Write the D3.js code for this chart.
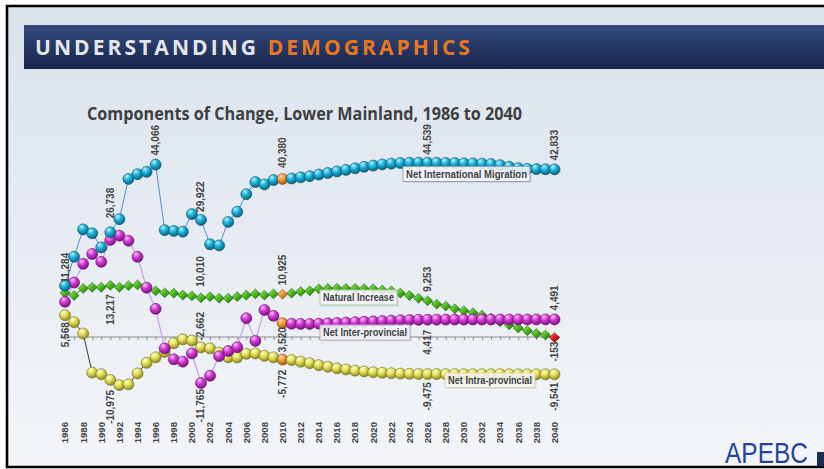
<!DOCTYPE html>
<html><head><meta charset="utf-8">
<script src="https://cdn.jsdelivr.net/npm/d3@7"></script>
<style>html,body{margin:0;padding:0;background:#fff;overflow:hidden}</style>
</head><body>
<svg id="c" width="824" height="469"></svg>
<script>
// ---------------- DATA ----------------
const years = [1986,1987,1988,1989,1990,1991,1992,1993,1994,1995,1996,1997,1998,1999,2000,2001,2002,2003,2004,2005,2006,2007,2008,2009,2010,2011,2012,2013,2014,2015,2016,2017,2018,2019,2020,2021,2022,2023,2024,2025,2026,2027,2028,2029,2030,2031,2032,2033,2034,2035,2036,2037,2038,2039,2040];
const xTickLabels = ["1986","1988","1990","1992","1994","1996","1998","2000","2002","2004","2006","2008","2010","2012","2014","2016","2018","2020","2022","2024","2026","2028","2030","2032","2034","2036","2038","2040"];
const seriesNames = ["Net International Migration","Natural Increase","Net Inter-provincial","Net Intra-provincial"];
const international = [13100,20500,27500,26500,22900,26738,30100,40400,41600,42200,44066,27300,27100,26900,31400,29922,23700,23400,29400,32000,36500,39600,39000,40100,40380,40500,40800,41100,41500,41900,42300,42700,43100,43500,43800,44100,44300,44450,44520,44540,44539,44520,44480,44440,44400,44350,44300,44200,43900,43500,43150,42950,42900,42860,42833];
const natural = [11284,10600,12400,12700,12700,13217,12700,13100,13300,12400,11800,11300,11200,10700,10500,10010,10300,9900,9900,10300,10700,11000,10700,11000,10925,11200,11600,11800,12300,12400,12450,12400,12400,12350,12300,12000,11800,11200,10600,9900,9253,8400,7900,7200,6700,6200,5600,4800,3900,3100,2300,1600,900,500,-153];
const interprovincial = [9000,13900,18700,21200,19200,24800,25900,24600,20500,12600,7200,-2900,-5700,-6300,-4200,-11765,-9900,-4900,-3600,-2600,4800,-1000,6900,5400,3520,3400,3350,3350,3400,3500,3600,3700,3800,3900,4000,4100,4200,4300,4350,4400,4417,4430,4440,4450,4455,4460,4465,4470,4475,4480,4483,4486,4488,4490,4491];
const intraprovincial = [5568,3800,900,-9100,-9500,-10975,-12300,-12100,-9300,-6600,-5200,-3800,-1600,-600,-900,-2662,-2900,-4000,-5200,-5200,-4300,-4200,-4800,-5200,-5772,-5900,-6300,-6700,-7200,-7600,-8000,-8300,-8600,-8800,-9000,-9150,-9250,-9350,-9400,-9450,-9475,-9480,-9490,-9495,-9500,-9505,-9510,-9512,-9515,-9520,-9525,-9530,-9535,-9538,-9541];
const dataLabels = [
  {series:"natural", year:1986, text:"11,284", pos:"above"},
  {series:"international", year:1991, text:"26,738", pos:"above"},
  {series:"international", year:1996, text:"44,066", pos:"above"},
  {series:"international", year:2001, text:"29,922", pos:"above"},
  {series:"natural", year:2001, text:"10,010", pos:"above"},
  {series:"international", year:2010, text:"40,380", pos:"above"},
  {series:"natural", year:2010, text:"10,925", pos:"above"},
  {series:"natural", year:1991, text:"13,217", pos:"below"},
  {series:"intraprovincial", year:1986, text:"5,568", pos:"below"},
  {series:"intraprovincial", year:1991, text:"-10,975", pos:"below"},
  {series:"intraprovincial", year:2001, text:"-2,662", pos:"above"},
  {series:"interprovincial", year:2001, text:"-11,765", pos:"below"},
  {series:"interprovincial", year:2010, text:"3,520", pos:"below"},
  {series:"intraprovincial", year:2010, text:"-5,772", pos:"below"},
  {series:"international", year:2026, text:"44,539", pos:"above"},
  {series:"international", year:2040, text:"42,833", pos:"above"},
  {series:"natural", year:2026, text:"9,253", pos:"above"},
  {series:"interprovincial", year:2040, text:"4,491", pos:"above"},
  {series:"interprovincial", year:2026, text:"4,417", pos:"below"},
  {series:"natural", year:2040, text:"-153", pos:"below"},
  {series:"intraprovincial", year:2026, text:"-9,475", pos:"below"},
  {series:"intraprovincial", year:2040, text:"-9,541", pos:"below"}
];

// ---------------- LAYOUT / STYLE ----------------
const W = 824, H = 469;
const svg = d3.select("#c");
const defs = svg.append("defs");
const seriesData = {international, natural, interprovincial, intraprovincial};

// background
const bg = defs.append("linearGradient").attr("id","bg").attr("x1",0).attr("y1",0).attr("x2",0).attr("y2",1);
bg.append("stop").attr("offset","0%").attr("stop-color","#dae3ec");
bg.append("stop").attr("offset","100%").attr("stop-color","#f3f5f8");
svg.append("rect").attr("width",W).attr("height",H).attr("fill","#ffffff");
svg.append("rect").attr("x",7).attr("y",6).attr("width",W-7).attr("height",461).attr("fill","url(#bg)");
// frame
svg.append("path").attr("d","M824,6 H7 V467 H824").attr("fill","none").attr("stroke","#000").attr("stroke-width",2.6);

// header bar
const hb = defs.append("linearGradient").attr("id","hb").attr("x1",0).attr("y1",0).attr("x2",0).attr("y2",1);
hb.append("stop").attr("offset","0%").attr("stop-color","#354b7e");
hb.append("stop").attr("offset","100%").attr("stop-color","#16244b");
svg.append("rect").attr("x",24).attr("y",25).attr("width",W-24).attr("height",44).attr("fill","url(#hb)");
const ht = svg.append("text").attr("x",35).attr("y",54.5)
  .attr("font-family","'Open Sans', sans-serif").attr("font-weight",700).attr("font-size",21)
  .attr("letter-spacing","1.5px");
ht.append("tspan").attr("fill","#e4e6ea").text("UNDERSTANDING ");
ht.append("tspan").attr("fill","#e8771e").text("DEMOGRAPHICS");
// fit header width
(function(){const n=ht.node(); const L=n.getComputedTextLength(); const target=438; const chars=26; const ls=1.5+(target-L)/chars; ht.attr("letter-spacing",ls+"px");})();

// chart title
svg.append("text").attr("x",87).attr("y",120)
  .attr("font-family","'Open Sans', sans-serif").attr("font-weight",700).attr("font-size",17)
  .attr("fill","#3f3f3f").attr("textLength",435).attr("lengthAdjust","spacingAndGlyphs")
  .text("Components of Change, Lower Mainland, 1986 to 2040");

// scales
const x = d3.scaleLinear().domain([years[0], years[years.length-1]]).range([65,554.5]);
const y = d3.scaleLinear().domain([0,44539]).range([337,162.7]);

// axis
const axisG = svg.append("g").attr("transform",`translate(0,${y(0)})`);
axisG.call(d3.axisBottom(x).tickValues(years).tickSize(3).tickFormat("").tickSizeOuter(0));
axisG.select(".domain").remove();
axisG.selectAll(".tick line").attr("stroke","#8a8a8a");
axisG.append("line").attr("x1",60).attr("x2",560).attr("y1",0).attr("y2",0).attr("stroke","#8a8a8a").attr("stroke-width",1);

// x tick labels
svg.append("g").selectAll("text").data(xTickLabels).join("text")
  .attr("transform",d=>`translate(${x(+d)},422) rotate(-90)`)
  .attr("text-anchor","end").attr("dy","0.35em")
  .attr("font-family","'Liberation Sans', Arial, sans-serif").attr("font-weight",700).attr("font-size",9.6)
  .attr("fill","#444").text(d=>d);

// gradients for markers
function sphere(id, hi, base, dark){
  const g = defs.append("radialGradient").attr("id",id).attr("cx","38%").attr("cy","32%").attr("r","70%").attr("fx","35%").attr("fy","25%");
  g.append("stop").attr("offset","0%").attr("stop-color",hi);
  g.append("stop").attr("offset","45%").attr("stop-color",base);
  g.append("stop").attr("offset","100%").attr("stop-color",dark);
}
sphere("gCyan","#b9f2ff","#1ab3d8","#0b5f7d");
sphere("gMag","#fbc4fb","#d33ad4","#7a0f7c");
sphere("gYel","#ffffd0","#e3e05a","#8a8720");
sphere("gOra","#ffe0b8","#f39a3a","#a0520f");
function diamondGrad(id, hi, base, dark){
  const g = defs.append("linearGradient").attr("id",id).attr("x1",0).attr("y1",0).attr("x2",1).attr("y2",1);
  g.append("stop").attr("offset","0%").attr("stop-color",hi);
  g.append("stop").attr("offset","50%").attr("stop-color",base);
  g.append("stop").attr("offset","100%").attr("stop-color",dark);
}
diamondGrad("dGreen","#a7f07a","#48b81a","#1f6a0a");
diamondGrad("dOra","#ffd6a0","#f0923a","#a0520f");
diamondGrad("dRed","#ff8a8a","#e01515","#7a0505");

const seriesStyle = {
  international:{line:"#4f8fd2", lw:1, fill:"url(#gCyan)", stroke:"#0a4f6a", shape:"circle"},
  natural:{line:"#2f8a1c", lw:1, fill:"url(#dGreen)", stroke:"#1d5c0c", shape:"diamond"},
  interprovincial:{line:"#c7a3e3", lw:1.2, fill:"url(#gMag)", stroke:"#6a0d6c", shape:"circle"},
  intraprovincial:{line:"#3a3a3a", lw:1, fill:"url(#gYel)", stroke:"#6f6c18", shape:"circle"}
};
const drawOrder = ["natural","intraprovincial","interprovincial","international"];

// lines
const lineGen = d3.line().x((d,i)=>x(years[i])).y(d=>y(d));
drawOrder.forEach(k=>{
  svg.append("path").datum(seriesData[k]).attr("d",lineGen)
    .attr("fill","none").attr("stroke",seriesStyle[k].line).attr("stroke-width",seriesStyle[k].lw);
});

// markers
const R = 5.5;
drawOrder.forEach(k=>{
  const st = seriesStyle[k];
  const g = svg.append("g");
  const pts = seriesData[k].map((v,i)=>({year:years[i], v}));
  if (st.shape==="circle"){
    g.selectAll("circle").data(pts).join("circle")
      .attr("cx",d=>x(d.year)).attr("cy",d=>y(d.v)).attr("r",R)
      .attr("fill",d=>d.year===2010?"url(#gOra)":st.fill)
      .attr("stroke",d=>d.year===2010?"#8a4a10":st.stroke).attr("stroke-width",0.6);
  } else {
    g.selectAll("path").data(pts).join("path")
      .attr("d","M0,-4.9 L5,0 L0,4.9 L-5,0 Z")
      .attr("transform",d=>`translate(${x(d.year)},${y(d.v)})`)
      .attr("fill",d=>d.year===2010?"url(#dOra)":(d.year===2040?"url(#dRed)":st.fill))
      .attr("stroke",d=>d.year===2010?"#8a4a10":(d.year===2040?"#600":st.stroke)).attr("stroke-width",0.6);
  }
});

// data labels
const labelOffset = {"11,284":10,"26,738":14,"44,066":9,"29,922":8,"10,010":11,"40,380":11,"10,925":9,"13,217":9,
  "5,568":7,"-10,975":10,"-2,662":7,"-11,765":6,"3,520":4,"-5,772":10,"44,539":8,"42,833":9,"9,253":9,"4,491":9,
  "4,417":10,"-153":4,"-9,475":8,"-9,541":8};
svg.append("g").selectAll("text").data(dataLabels).join("text")
  .attr("transform",d=>{
    const v = seriesData[d.series][years.indexOf(d.year)];
    const px = x(d.year), py = y(v), off = labelOffset[d.text];
    return `translate(${px},${d.pos==="above"? py-off : py+off}) rotate(-90)`;
  })
  .attr("text-anchor",d=>d.pos==="above"?"start":"end").attr("dy","0.35em")
  .attr("font-family","'Liberation Sans', Arial, sans-serif").attr("font-weight",700).attr("font-size",10)
  .attr("fill","#454545").text(d=>d.text);

// callout boxes (series names)
const callouts = [
  {name:seriesNames[0], x0:403, y0:166.5, w:127, h:15, stroke:"#9c9cc0"},
  {name:seriesNames[1], x0:320, y0:290, w:77, h:15, stroke:"#a7cfa7"},
  {name:seriesNames[2], x0:320, y0:325, w:90, h:15, stroke:"#bcaccc"},
  {name:seriesNames[3], x0:445, y0:373, w:90, h:14.5, stroke:"#d8d79e"}
];
const cg = svg.append("g").selectAll("g").data(callouts).join("g");
cg.append("rect").attr("x",d=>d.x0+1.5).attr("y",d=>d.y0+1.5).attr("width",d=>d.w).attr("height",d=>d.h)
  .attr("fill","#000").attr("opacity",0.08);
cg.append("rect").attr("x",d=>d.x0).attr("y",d=>d.y0).attr("width",d=>d.w).attr("height",d=>d.h)
  .attr("fill","#f7f8fa").attr("fill-opacity",0.85).attr("stroke",d=>d.stroke).attr("stroke-width",1);
cg.append("text").attr("x",d=>d.x0+3).attr("y",d=>d.y0+d.h/2).attr("dy","0.35em")
  .attr("font-family","'Liberation Sans', Arial, sans-serif").attr("font-weight",700).attr("font-size",10)
  .attr("fill","#404040").attr("textLength",d=>d.w-6).attr("lengthAdjust","spacingAndGlyphs").text(d=>d.name);

// logo
svg.append("text").attr("x",725).attr("y",463).attr("font-family","'Liberation Sans', Arial, sans-serif")
  .attr("font-size",29).attr("fill","#25449a").attr("textLength",83).attr("lengthAdjust","spacingAndGlyphs").text("APEBC");
svg.append("rect").attr("x",817).attr("y",452).attr("width",7).attr("height",14).attr("fill","#1c2b57");
</script>
</body></html>
